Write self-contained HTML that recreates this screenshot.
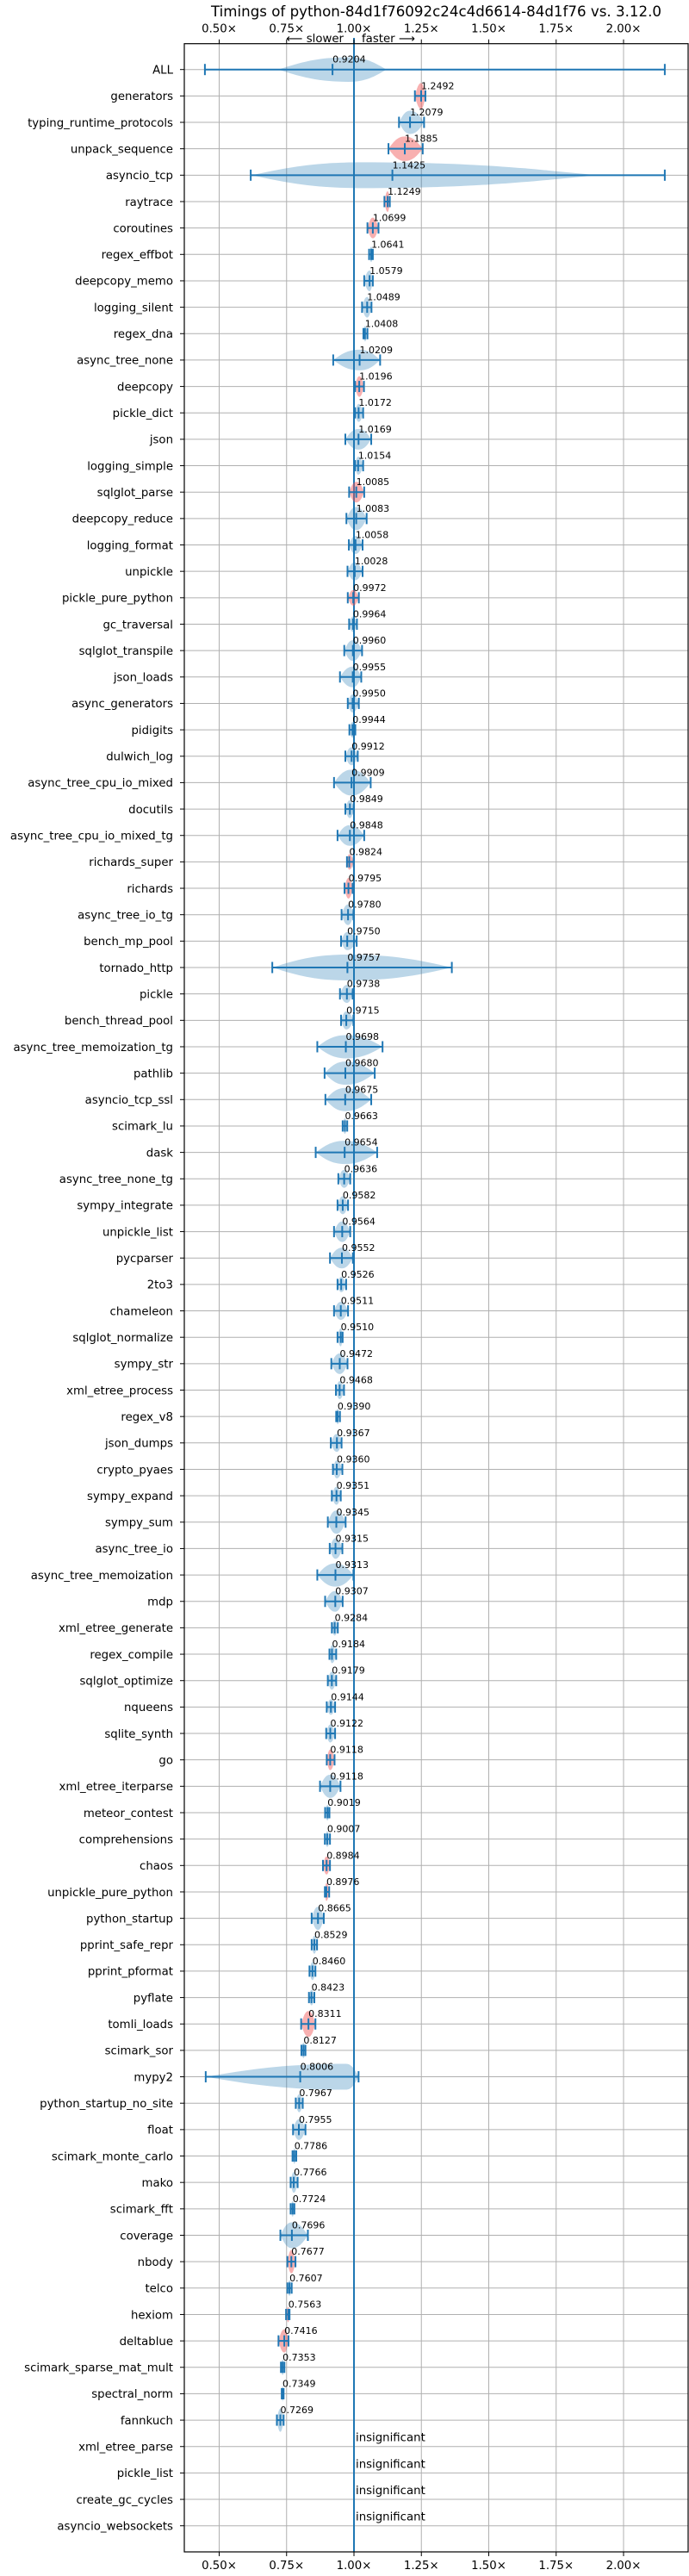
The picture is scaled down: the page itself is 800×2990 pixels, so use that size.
<!DOCTYPE html>
<html><head><meta charset="utf-8"><style>
html,body{margin:0;padding:0;background:#fff;}
svg{display:block;font-family:"DejaVu Sans","Liberation Sans",sans-serif;}
</style></head><body>
<svg id="chart" width="800" height="2990" viewBox="0 0 800 2990" xmlns="http://www.w3.org/2000/svg">
<text x="506.5" y="19" text-anchor="middle" font-size="16.7" textLength="523" lengthAdjust="spacingAndGlyphs">Timings of python-84d1f76092c24c4d6614-84d1f76 vs. 3.12.0</text>
<text x="399" y="49" text-anchor="end" font-size="13.3">⟵ slower</text>
<text x="420" y="49" font-size="13.3">faster ⟶</text>
<g id="grid"></g>
<g id="marks"></g>
<g id="axes"></g>
</svg>
<script>
const benchmarks = ["ALL","generators","typing_runtime_protocols","unpack_sequence","asyncio_tcp","raytrace","coroutines","regex_effbot","deepcopy_memo","logging_silent","regex_dna","async_tree_none","deepcopy","pickle_dict","json","logging_simple","sqlglot_parse","deepcopy_reduce","logging_format","unpickle","pickle_pure_python","gc_traversal","sqlglot_transpile","json_loads","async_generators","pidigits","dulwich_log","async_tree_cpu_io_mixed","docutils","async_tree_cpu_io_mixed_tg","richards_super","richards","async_tree_io_tg","bench_mp_pool","tornado_http","pickle","bench_thread_pool","async_tree_memoization_tg","pathlib","asyncio_tcp_ssl","scimark_lu","dask","async_tree_none_tg","sympy_integrate","unpickle_list","pycparser","2to3","chameleon","sqlglot_normalize","sympy_str","xml_etree_process","regex_v8","json_dumps","crypto_pyaes","sympy_expand","sympy_sum","async_tree_io","async_tree_memoization","mdp","xml_etree_generate","regex_compile","sqlglot_optimize","nqueens","sqlite_synth","go","xml_etree_iterparse","meteor_contest","comprehensions","chaos","unpickle_pure_python","python_startup","pprint_safe_repr","pprint_pformat","pyflate","tomli_loads","scimark_sor","mypy2","python_startup_no_site","float","scimark_monte_carlo","mako","scimark_fft","coverage","nbody","telco","hexiom","deltablue","scimark_sparse_mat_mult","spectral_norm","fannkuch","xml_etree_parse","pickle_list","create_gc_cycles","asyncio_websockets"];
const medians = [0.9204,1.2492,1.2079,1.1885,1.1425,1.1249,1.0699,1.0641,1.0579,1.0489,1.0408,1.0209,1.0196,1.0172,1.0169,1.0154,1.0085,1.0083,1.0058,1.0028,0.9972,0.9964,0.9960,0.9955,0.9950,0.9944,0.9912,0.9909,0.9849,0.9848,0.9824,0.9795,0.9780,0.9750,0.9757,0.9738,0.9715,0.9698,0.9680,0.9675,0.9663,0.9654,0.9636,0.9582,0.9564,0.9552,0.9526,0.9511,0.9510,0.9472,0.9468,0.9390,0.9367,0.9360,0.9351,0.9345,0.9315,0.9313,0.9307,0.9284,0.9184,0.9179,0.9144,0.9122,0.9118,0.9118,0.9019,0.9007,0.8984,0.8976,0.8665,0.8529,0.8460,0.8423,0.8311,0.8127,0.8006,0.7967,0.7955,0.7786,0.7766,0.7724,0.7696,0.7677,0.7607,0.7563,0.7416,0.7353,0.7349,0.7269,null,null,null,null];
const lows = [0.447,1.226,1.167,1.128,0.617,1.113,1.05,1.056,1.038,1.03,1.035,0.923,1.004,1.004,0.968,1.004,0.982,0.972,0.981,0.976,0.977,0.982,0.964,0.948,0.977,0.983,0.968,0.926,0.968,0.939,0.974,0.965,0.954,0.952,0.697,0.948,0.952,0.864,0.891,0.894,0.958,0.858,0.942,0.939,0.926,0.911,0.939,0.926,0.939,0.916,0.933,0.934,0.914,0.922,0.918,0.903,0.91,0.864,0.893,0.918,0.909,0.903,0.899,0.897,0.899,0.874,0.893,0.892,0.885,0.892,0.843,0.843,0.835,0.833,0.804,0.805,0.45,0.784,0.774,0.772,0.765,0.765,0.727,0.753,0.753,0.748,0.72,0.729,0.732,0.714,null,null,null,null];
const highs = [2.153,1.265,1.26,1.255,2.153,1.133,1.091,1.07,1.07,1.065,1.05,1.097,1.037,1.034,1.064,1.034,1.038,1.047,1.032,1.032,1.018,1.011,1.03,1.027,1.018,1.005,1.014,1.062,0.999,1.038,0.999,0.995,0.998,1.01,1.363,0.995,0.998,1.106,1.077,1.064,0.975,1.086,0.986,0.978,0.986,0.996,0.971,0.978,0.958,0.976,0.963,0.948,0.954,0.957,0.951,0.969,0.957,0.998,0.958,0.94,0.934,0.934,0.93,0.93,0.928,0.95,0.909,0.911,0.911,0.908,0.888,0.863,0.857,0.853,0.857,0.82,1.017,0.81,0.82,0.786,0.791,0.779,0.829,0.783,0.769,0.761,0.757,0.742,0.739,0.739,null,null,null,null];
const bodyLows = [0.72,null,null,null,0.62,null,null,null,null,null,null,null,null,null,null,null,null,null,null,null,null,null,null,null,null,null,null,null,null,null,null,null,null,null,null,null,null,null,null,null,null,null,null,null,null,null,null,null,null,null,null,null,null,null,null,null,null,null,null,null,null,null,null,null,null,null,null,null,null,null,null,null,null,null,null,null,0.45,null,null,null,null,null,null,null,null,null,null,null,null,null,null,null,null,null];
const bodyHighs = [1.12,null,null,null,1.9,null,null,null,null,null,null,null,null,null,null,null,null,null,null,null,null,null,null,null,null,null,null,null,null,null,null,null,null,null,null,null,null,null,null,null,null,null,null,null,null,null,null,null,null,null,null,null,null,null,null,null,null,null,null,null,null,null,null,null,null,null,null,null,null,null,null,null,null,null,null,null,1.017,null,null,null,null,null,null,null,null,null,null,null,null,null,null,null,null,null];
const bodyPeaks = [0.98,null,null,null,1.03,null,null,null,null,null,null,null,null,null,null,null,null,null,null,null,null,null,null,null,null,null,null,null,null,null,null,null,null,null,null,null,null,null,null,null,null,null,null,null,null,null,null,null,null,null,null,null,null,null,null,null,null,null,null,null,null,null,null,null,null,null,null,null,null,null,null,null,null,null,null,null,0.97,null,null,null,null,null,null,null,null,null,null,null,null,null,null,null,null,null];
const densities = [0.95,1.0,0.9,0.95,1.0,0.8,0.8,0.6,0.8,0.8,0.6,0.8,0.8,0.7,0.8,0.7,0.8,0.9,0.7,0.7,0.6,0.6,0.8,0.8,0.7,0.6,0.7,1.0,0.7,0.8,0.6,0.8,0.8,0.7,1.0,0.7,0.7,0.9,0.9,0.9,0.6,0.9,0.7,0.7,0.8,0.8,0.6,0.7,0.7,0.8,0.7,0.6,0.7,0.7,0.7,0.9,0.8,0.9,0.8,0.6,0.7,0.7,0.6,0.7,0.8,0.9,0.6,0.6,0.7,0.7,0.9,0.7,0.7,0.6,1.0,0.6,1.0,0.7,0.8,0.6,0.8,0.6,1.0,0.9,0.6,0.6,0.9,0.6,0.6,0.9,null,null,null,null];
const slower = [false,true,false,true,false,true,true,false,false,false,false,false,true,false,false,false,true,false,false,false,true,false,false,false,false,false,false,false,false,false,true,true,false,false,false,false,false,false,false,false,false,false,false,false,false,false,false,false,false,false,false,false,false,false,false,false,false,false,false,false,false,false,false,false,true,false,false,false,true,true,false,false,false,false,true,false,false,false,false,false,false,false,false,true,false,true,true,false,false,false,false,false,false,false];
const tickValues = [0.5,0.75,1.0,1.25,1.5,1.75,2.0];
const tickLabels = ["0.50×","0.75×","1.00×","1.25×","1.50×","1.75×","2.00×"];

const NS = "http://www.w3.org/2000/svg";
const L = 214, R = 799, T = 50.7, B = 2962;
const X0 = 411, PXU = 313;
const Y0 = 80.7, DY = 30.656;
function xs(v){ return X0 + (v - 1) * PXU; }
function ys(i){ return Y0 + i * DY; }
function mk(tag, attrs, parent){
  const e = document.createElementNS(NS, tag);
  for (const k in attrs) e.setAttribute(k, attrs[k]);
  parent.appendChild(e);
  return e;
}
const grid = document.getElementById('grid');
const marks = document.getElementById('marks');
const axes = document.getElementById('axes');

tickValues.forEach((v, k) => {
  const g = mk('line', {x1: xs(v), x2: xs(v), y1: T, y2: B, stroke: '#b0b0b0', 'stroke-width': 1}, grid);
  
  
  const tt = mk('line', {x1: xs(v), x2: xs(v), y1: T - 5, y2: T, stroke: '#000', 'stroke-width': 1}, axes);
  
  
  const bt = mk('line', {x1: xs(v), x2: xs(v), y1: B, y2: B + 5, stroke: '#000', 'stroke-width': 1}, axes);
  
  
  const t1 = mk('text', {x: xs(v), y: 37.5, 'text-anchor': 'middle', 'font-size': 13.3}, axes);
  t1.textContent = tickLabels[k];
  
  
  const t2 = mk('text', {x: xs(v), y: 2982, 'text-anchor': 'middle', 'font-size': 13.3}, axes);
  t2.textContent = tickLabels[k];
  
  
});

benchmarks.forEach((name, i) => {
  const y = ys(i);
  const gl = mk('line', {x1: L, x2: R, y1: y, y2: y, stroke: '#b0b0b0', 'stroke-width': 1}, grid);
  
  
  const tk = mk('line', {x1: L - 5, x2: L, y1: y, y2: y, stroke: '#000', 'stroke-width': 1}, axes);
  
  
  const lb = mk('text', {x: 201, y: y + 4.8, 'text-anchor': 'end', 'font-size': 13.3}, axes);
  lb.textContent = name;
  
  
});

const vline = mk('line', {x1: xs(1), x2: xs(1), y1: 44, y2: B, stroke: '#1f77b4', 'stroke-width': 2}, marks);



benchmarks.forEach((name, i) => {
  const y = ys(i);
  const m = medians[i];
  if (m === null) {
    const t = mk('text', {x: xs(1) + 2, y: y - 6, 'font-size': 13.3}, marks);
    t.textContent = 'insignificant';
    
    
    return;
  }
  const lo = xs(lows[i]), hi = xs(highs[i]), mx = xs(m);
  const blo = xs(bodyLows[i] !== null ? bodyLows[i] : lows[i]);
  const bhi = xs(bodyHighs[i] !== null ? bodyHighs[i] : highs[i]);
  const pk = xs(bodyPeaks[i] !== null ? bodyPeaks[i] : m);
  const h = densities[i] * 15;
  const wl0 = pk - blo, wr0 = bhi - pk;
  const fill = slower[i] ? 'rgba(240,80,80,0.45)' : 'rgba(31,119,180,0.3)';
  const d = `M${blo},${y} C${blo+wl0*0.3},${y-h*0.55} ${pk-wl0*0.45},${y-h} ${pk},${y-h} C${pk+wr0*0.45},${y-h} ${bhi-wr0*0.3},${y-h*0.55} ${bhi},${y} C${bhi-wr0*0.3},${y+h*0.55} ${pk+wr0*0.45},${y+h} ${pk},${y+h} C${pk-wl0*0.45},${y+h} ${blo+wl0*0.3},${y+h*0.55} ${blo},${y} Z`;
  const v = mk('path', {d: d, fill: fill}, marks);
  
  
  const wl = mk('line', {x1: lo, x2: hi, y1: y, y2: y, stroke: '#1f77b4', 'stroke-width': 2}, marks);
  
  
  [lo, hi, mx].forEach((cx) => {
    const c = mk('line', {x1: cx, x2: cx, y1: y - 6.5, y2: y + 6.5, stroke: '#1f77b4', 'stroke-width': 2}, marks);
    
    
  });
  const t = mk('text', {x: mx, y: y - 8, 'font-size': 11}, marks);
  t.textContent = m.toFixed(4);
  
  
});

const frame = mk('rect', {x: L, y: T, width: R - L, height: B - T, fill: 'none', stroke: '#000', 'stroke-width': 1.2}, axes);


</script>
</body></html>
